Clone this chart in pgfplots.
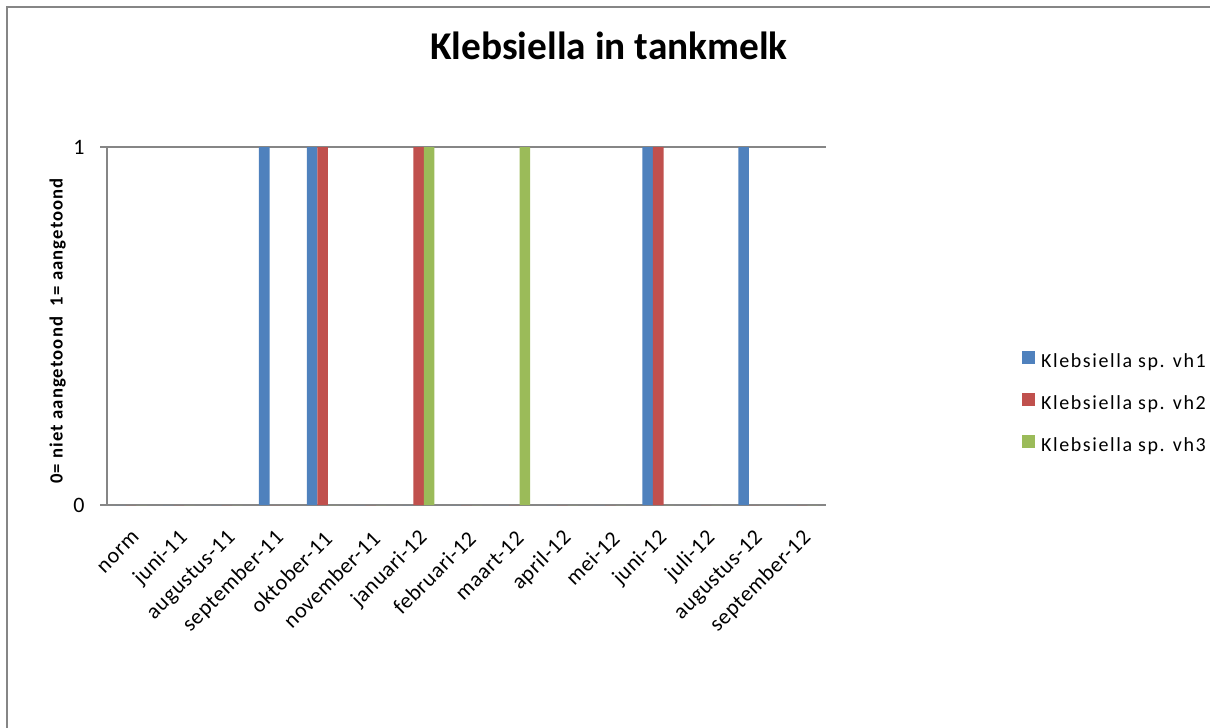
\documentclass[border=0pt]{standalone}
\usepackage{pgfplots}
\pgfplotsset{compat=1.18}
\usepackage{pgfplotstable}
\usepackage{fontspec}
\setmainfont{Carlito}
\newfontfamily\legfont[LetterSpace=8]{Carlito}
\newfontfamily\ylabfont[LetterSpace=6]{Carlito}
\newfontfamily\tickfont[LetterSpace=3]{Carlito}

\definecolor{vhA}{HTML}{4F81BD}
\definecolor{vhB}{HTML}{C0504D}
\definecolor{vhC}{HTML}{9BBB59}
\definecolor{axgray}{HTML}{868686}

\pgfplotstableread{
x vhA vhB vhC
0 0 0 0
1 0 0 0
2 0 0 0
3 1 0 0
4 1 1 0
5 0 0 0
6 0 1 1
7 0 0 0
8 0 0 1
9 0 0 0
10 0 0 0
11 1 1 0
12 0 0 0
13 1 0 0
14 0 0 0
}\datatable

\begin{document}
\begin{tikzpicture}
\path[use as bounding box] (0pt,0pt) rectangle (907.5pt,-546pt);
\draw[axgray, line width=1.1pt] (5.25pt,-546pt) -- (5.25pt,-5.25pt) -- (907.5pt,-5.25pt);
\node[anchor=base, font=\fontsize{29.5}{32}\selectfont\bfseries] at (456.75pt,-44.6pt) {Klebsiella in tankmelk};
\begin{axis}[
  at={(80.25pt,-378.75pt)}, anchor=south west,
  scale only axis, width=539.25pt, height=268.5pt,
  ybar=0pt, bar width=7.9pt,
  xmin=-0.5, xmax=14.5, ymin=0, ymax=1,
  axis x line*=bottom, axis y line*=left,
  axis line style={axgray, line width=1pt, -},
  xtick={0,...,14},
  xticklabels={norm,juni-11,augustus-11,september-11,oktober-11,november-11,januari-12,februari-12,maart-12,april-12,mei-12,juni-12,juli-12,augustus-12,september-12},
  x tick style={draw=none},
  extra x ticks={-0.5,0.5,...,14.5},
  extra x tick labels={},
  extra x tick style={tick style={draw=axgray, line width=1pt}, major tick length=5.25pt},
  ytick={0,1},
  y tick style={axgray, line width=1pt},
  tick align=outside,
  major tick length=5.25pt,
  ymajorgrids, grid style={axgray, line width=1pt},
  /pgf/number format/assume math mode=true,
  tick label style={font=\fontsize{16.5}{19}\selectfont, black},
  xticklabel style={font=\tickfont\fontsize{16.5}{19}\selectfont, rotate=45, anchor=east, inner sep=1pt, yshift=-15pt, xshift=-8pt},
  yticklabel style={anchor=east, xshift=-8pt},
  ylabel={0= niet aangetoond\ \ 1= aangetoond},
  y label style={at={(axis description cs:-0.0688,0.486)}, anchor=center, font=\ylabfont\fontsize{14}{16}\selectfont\bfseries},
  legend style={at={(axis description cs:1.267,0.282)}, anchor=west, draw=none, fill=none,
    font=\legfont\fontsize{15}{18}\selectfont, row sep=15pt, column sep=0pt,
    nodes={inner sep=0pt, anchor=west, text height=11pt, text depth=4pt}},
  legend cell align=left,
  legend image code/.code={\fill[#1] (0pt,-0.5pt) rectangle (9.75pt,9pt);},
  legend columns=1,
]
\addplot[fill=vhA, draw=none] table[x=x, y=vhA] {\datatable};
\addplot[fill=vhB, draw=none] table[x=x, y=vhB] {\datatable};
\addplot[fill=vhC, draw=none] table[x=x, y=vhC] {\datatable};
\legend{\hspace{4.5pt}Klebsiella sp. vh1,\hspace{4.5pt}Klebsiella sp. vh2,\hspace{4.5pt}Klebsiella sp. vh3}
\end{axis}
\end{tikzpicture}
\end{document}
